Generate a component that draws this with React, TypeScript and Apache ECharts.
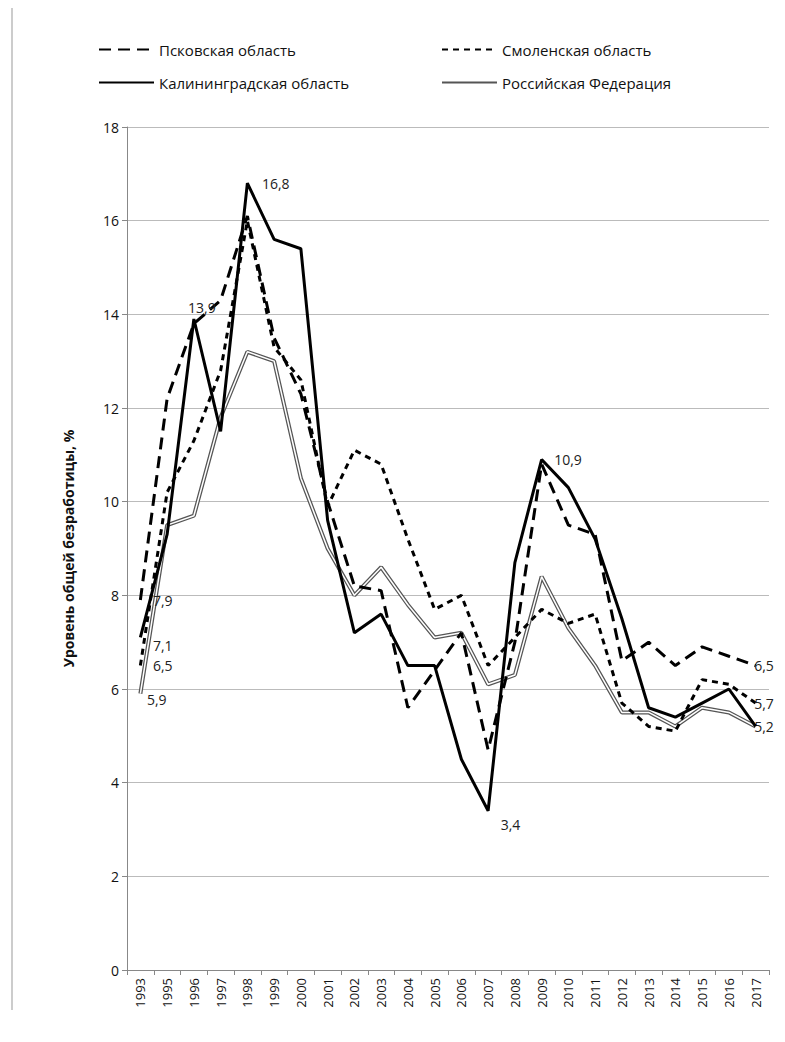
import React, { useEffect, useRef } from "react";
import * as echarts from "echarts";

const years = ["1993","1995","1996","1997","1998","1999","2000","2001","2002","2003","2004","2005","2006","2007","2008","2009","2010","2011","2012","2013","2014","2015","2016","2017"];
const pskov = [7.9,12.2,13.8,14.3,16.1,13.5,12.3,10.0,8.2,8.1,5.6,6.4,7.2,4.7,7.0,10.8,9.5,9.3,6.6,7.0,6.5,6.9,6.7,6.5];
const smolensk = [6.5,10.2,11.3,12.8,16.0,13.3,12.6,9.9,11.1,10.8,9.2,7.7,8.0,6.5,7.1,7.7,7.4,7.6,5.7,5.2,5.1,6.2,6.1,5.7];
const kalin = [7.1,9.3,13.9,11.5,16.8,15.6,15.4,9.6,7.2,7.6,6.5,6.5,4.5,3.4,8.7,10.9,10.3,9.2,7.5,5.6,5.4,5.7,6.0,5.2];
const rf = [5.9,9.5,9.7,11.8,13.2,13.0,10.5,9.0,8.0,8.6,7.8,7.1,7.2,6.1,6.3,8.4,7.3,6.5,5.5,5.5,5.2,5.6,5.5,5.2];
const names = ["Псковская область","Смоленская область","Калининградская область","Российская Федерация"];

const fmt = (v: number) => String(v).replace(".", ",");
function marks(arr: number[], spec: [number, any, number[]?][]) {
  return {
    symbol: "circle",
    symbolSize: 1,
    silent: true,
    itemStyle: { color: "rgba(0,0,0,0)" },
    data: spec.map(([i, pos, off]) => ({
      coord: [i, arr[i]],
      label: { show: true, position: pos, formatter: fmt(arr[i]), color: "#222", fontSize: 14, distance: 6, offset: off || [0, 0] },
    })),
  };
}

export default function App() {
  const ref = useRef<HTMLDivElement>(null);
  useEffect(() => {
    const chart = echarts.init(ref.current!, undefined, { renderer: "svg" });
    const last = years.length - 1;
    const legendBase = { itemWidth: 55, itemHeight: 10, itemStyle: { opacity: 0 }, textStyle: { fontSize: 15, color: "#111", fontFamily: "Open Sans" } };
    chart.setOption({
      animation: false,
      textStyle: { fontFamily: "Open Sans" },
      legend: [
        { ...legendBase, left: 85, top: 29, data: [names[0]] },
        { ...legendBase, left: 428, top: 29, data: [names[1]] },
        { ...legendBase, left: 85, top: 62, data: [names[2]] },
        { ...legendBase, left: 428, top: 62, data: [names[3]] },
      ],
      graphic: [{ type: "line", shape: { x1: 4, y1: 0, x2: 4, y2: 1002 }, style: { stroke: "#999", lineWidth: 1 } }],
      grid: { left: 119, right: 8, top: 119, bottom: 64 },
      xAxis: {
        type: "category", data: years, boundaryGap: true,
        axisLine: { lineStyle: { color: "#888" } },
        axisTick: { show: true, lineStyle: { color: "#888" } },
        axisLabel: { rotate: 90, color: "#111", fontSize: 13, interval: 0 },
      },
      yAxis: {
        type: "value", min: 0, max: 18, interval: 2,
        name: "Уровень общей безработицы, %", nameLocation: "middle", nameGap: 52,
        nameTextStyle: { fontSize: 14, fontWeight: "bold", color: "#111" },
        axisLine: { show: true, lineStyle: { color: "#888" } },
        axisTick: { show: true, lineStyle: { color: "#888" } },
        axisLabel: { color: "#111", fontSize: 14 },
        splitLine: { lineStyle: { color: "#bbb" } },
      },
      series: [
        { name: names[3], type: "line", symbol: "none", data: rf, lineStyle: { color: "#555", width: 4 }, itemStyle: { color: "#555" }, z: 2,
          markPoint: marks(rf, [[0, "right", [0, 6]], [last, "right", [-8, 0]]]) },
        { name: "rf-inner", type: "line", symbol: "none", data: rf, lineStyle: { color: "#fff", width: 1.5 }, z: 3, silent: true },
        { name: names[0], type: "line", symbol: "none", data: pskov, lineStyle: { color: "#000", width: 3, type: [12, 7] }, itemStyle: { color: "#000" }, z: 4,
          markPoint: marks(pskov, [[0, "right", [6, 0]], [last, "right", [-8, 0]]]) },
        { name: names[1], type: "line", symbol: "none", data: smolensk, lineStyle: { color: "#000", width: 3, type: [6, 5] }, itemStyle: { color: "#000" }, z: 4,
          markPoint: marks(smolensk, [[0, "right", [6, 0]], [last, "right", [-8, 0]]]) },
        { name: names[2], type: "line", symbol: "none", data: kalin, lineStyle: { color: "#000", width: 3 }, itemStyle: { color: "#000" }, z: 5,
          markPoint: marks(kalin, [[0, "right", [6, 8]], [2, "top", [8, 2]], [4, "right", [8, 0]], [13, "right", [6, 14]], [15, "right", [6, 0]]]) },
      ],
    });
    return () => chart.dispose();
  }, []);
  return <div ref={ref} style={{ width: 769, height: 1026 }} />;
}
